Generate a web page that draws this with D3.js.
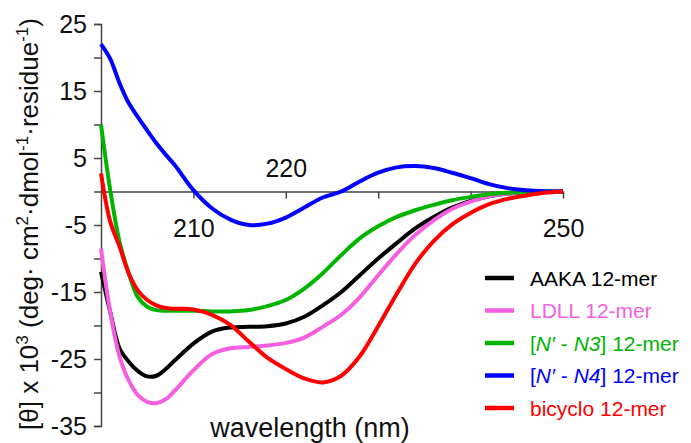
<!DOCTYPE html>
<html>
<head>
<meta charset="utf-8">
<script src="https://cdn.jsdelivr.net/npm/d3@7"></script>
<style>
  body { margin: 0; background: #fff; }
  svg { display: block; font-family: Arial, "Liberation Sans", sans-serif; }
</style>
</head>
<body>
<script>
const width = 691;
const height = 443;

// wavelength grid (nm) shared by all spectra
const wavelengths = [200, 201, 202, 203, 204, 205, 206, 207, 208, 210, 212, 214, 216, 218, 220,
  222, 224, 226, 228, 230, 232, 234, 236, 238, 240, 242, 244, 246, 248, 250];

// mean residue ellipticity x 10^3
const aaka = [-12.0, -18.0, -23.4, -25.4, -26.8, -27.6, -27.5, -26.5, -25.2, -22.7, -20.9, -20.3, -20.2, -20.1, -19.7,
  -18.7, -17.0, -15.0, -12.5, -10.0, -7.7, -5.5, -3.8, -2.4, -1.4, -0.7, -0.3, -0.1, 0, 0];
const ldll = [-8.5, -18.0, -24.6, -28.2, -30.4, -31.4, -31.6, -31.0, -29.7, -26.7, -24.3, -23.4, -23.2, -23.0, -22.6,
  -21.8, -20.2, -18.4, -15.8, -12.5, -9.3, -6.5, -4.3, -2.6, -1.5, -0.7, -0.3, -0.1, 0, 0];
const n3 = [10.0, 0.2, -7.5, -12.2, -15.8, -17.2, -17.7, -17.8, -17.8, -17.8, -17.9, -17.9, -17.7, -17.1, -16.2,
  -14.5, -12.2, -9.5, -7.0, -5.2, -3.8, -2.8, -2.0, -1.3, -0.8, -0.4, -0.2, -0.1, 0, 0];
const n4 = [22.0, 19.8, 16.2, 13.2, 11.1, 9.1, 7.2, 5.5, 3.9, 0.2, -2.5, -4.2, -5.0, -4.8, -3.9,
  -2.4, -0.9, 0.0, 1.5, 2.8, 3.6, 3.8, 3.5, 2.8, 2.0, 1.1, 0.5, 0.2, 0.05, 0];
const bicyclo = [2.7, -4.5, -8.2, -12.2, -14.8, -16.2, -17.0, -17.4, -17.5, -17.6, -18.4, -19.9, -22.4, -24.8, -26.5,
  -27.9, -28.5, -27.5, -24.6, -20.1, -15.3, -10.8, -7.4, -4.9, -3.2, -1.9, -1.1, -0.6, -0.2, 0];

const seriesNames = ["AAKA", "LDLL", "N3", "N4", "bicyclo"];
const seriesValues = [aaka, ldll, n3, n4, bicyclo];
const seriesColors = ["#000000", "#f55fdf", "#00b400", "#0000ff", "#ff0000"];

const yTicks = d3.range(-35, 26, 5);
const xTicks = [210, 220, 230, 240, 250];
const xLabels = [210, 220, 250];

const series = seriesNames.map((name, i) => ({
  name,
  color: seriesColors[i],
  points: wavelengths.map((w, j) => ({ w, v: seriesValues[i][j] }))
}));

const x = d3.scaleLinear().domain([200, 250]).range([101, 563]);
const y = d3.scaleLinear().domain([-35, 25]).range([426, 24]);

const svg = d3.select("body").append("svg")
  .attr("width", width)
  .attr("height", height);

// y axis
const yAxis = svg.append("g")
  .attr("transform", `translate(${x(200)},0)`)
  .call(d3.axisLeft(y).tickValues(yTicks).tickSize(7).tickPadding(7)
    .tickFormat(d => (d + 35) % 10 === 0 ? d : ""));
yAxis.select(".domain").attr("stroke", "#444").attr("stroke-width", 1.5);
yAxis.selectAll(".tick line").attr("stroke", "#444").attr("stroke-width", 1.5);
yAxis.selectAll(".tick text").attr("font-size", 25).attr("fill", "#111")
  .attr("font-family", "Arial, 'Liberation Sans', sans-serif");

// x axis sitting on zero
const xAxis = svg.append("g")
  .attr("transform", `translate(0,${y(0)})`)
  .call(d3.axisBottom(x).tickValues(xTicks).tickSize(7).tickSizeOuter(0)
    .tickFormat(d => xLabels.includes(d) ? d : ""));
xAxis.select(".domain").attr("stroke", "#444").attr("stroke-width", 1.5);
xAxis.selectAll(".tick line").attr("stroke", "#444").attr("stroke-width", 1.5);
xAxis.selectAll(".tick text")
  .attr("font-size", 25).attr("fill", "#111")
  .attr("font-family", "Arial, 'Liberation Sans', sans-serif")
  .attr("dy", null)
  .attr("y", d => d === 220 ? -15 : 45);

// spectra
const line = d3.line()
  .x(d => x(d.w))
  .y(d => y(d.v))
  .curve(d3.curveCatmullRom.alpha(0.5));

svg.append("g")
  .selectAll("path")
  .data(series)
  .join("path")
  .attr("fill", "none")
  .attr("stroke", d => d.color)
  .attr("stroke-width", 4)
  .attr("stroke-linejoin", "round")
  .attr("d", d => line(d.points));

// axis titles
svg.append("text")
  .attr("x", 310)
  .attr("y", 437)
  .attr("text-anchor", "middle")
  .attr("font-size", 27)
  .attr("fill", "#111")
  .text("wavelength (nm)");

const yt = svg.append("text")
  .attr("transform", "translate(38,224) rotate(-90)")
  .attr("text-anchor", "middle")
  .attr("font-size", 26)
  .attr("fill", "#111");
yt.append("tspan").text("[θ] x 10");
yt.append("tspan").attr("font-size", 17).attr("dy", -10).text("3");
yt.append("tspan").attr("dy", 10).text(" (deg· cm");
yt.append("tspan").attr("font-size", 17).attr("dy", -10).text("2");
yt.append("tspan").attr("dy", 10).text("·dmol");
yt.append("tspan").attr("font-size", 17).attr("dy", -10).text("-1");
yt.append("tspan").attr("dy", 10).text("·residue");
yt.append("tspan").attr("font-size", 17).attr("dy", -10).text("-1");
yt.append("tspan").attr("dy", 10).text(")");

// legend
const ly = d3.scalePoint().domain(seriesNames).range([278, 408]);
const legend = svg.append("g")
  .selectAll("g")
  .data(series)
  .join("g")
  .attr("transform", d => `translate(0,${ly(d.name)})`);

legend.append("line")
  .attr("x1", 485).attr("x2", 514)
  .attr("stroke", d => d.color)
  .attr("stroke-width", 4.5);

const labelParts = {
  AAKA: [["AAKA 12-mer", false]],
  LDLL: [["LDLL 12-mer", false]],
  N3: [["[", false], ["N′", true], [" - ", false], ["N3", true], ["] 12-mer", false]],
  N4: [["[", false], ["N′", true], [" - ", false], ["N4", true], ["] 12-mer", false]],
  bicyclo: [["bicyclo 12-mer", false]]
};

legend.append("text")
  .attr("x", 530)
  .attr("dy", "0.36em")
  .attr("font-size", 21)
  .attr("fill", d => d.color)
  .selectAll("tspan")
  .data(d => labelParts[d.name])
  .join("tspan")
  .attr("font-style", d => d[1] ? "italic" : "normal")
  .attr("xml:space", "preserve")
  .text(d => d[0]);
</script>
</body>
</html>
